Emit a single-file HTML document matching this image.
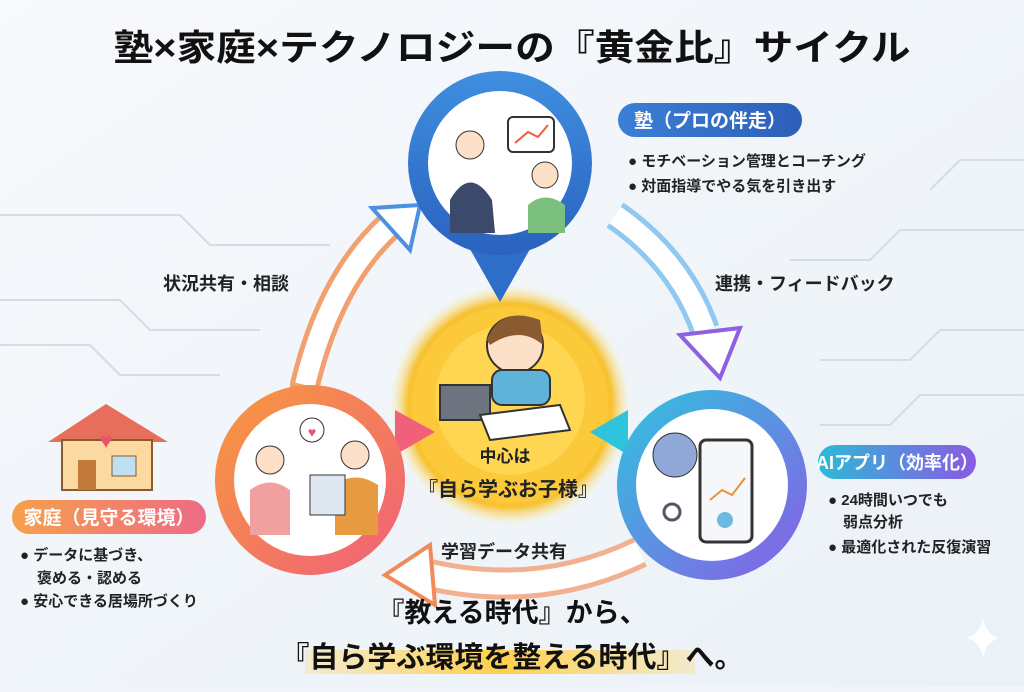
<!DOCTYPE html>
<html><head><meta charset="utf-8"><style>
html,body{margin:0;padding:0;}
body{width:1024px;height:687px;overflow:hidden;background:#f2f6fa;}
svg text{font-family:"Liberation Sans","Noto Sans CJK JP",sans-serif;font-weight:bold;}
</style></head><body>
<svg width="1024" height="687" viewBox="0 0 1024 687" xmlns="http://www.w3.org/2000/svg">
<defs>
<linearGradient id="bg" x1="0" y1="0" x2="1" y2="1"><stop offset="0" stop-color="#f7f9fc"/><stop offset="1" stop-color="#eaf1f7"/></linearGradient>
<radialGradient id="sun" cx="0.5" cy="0.5" r="0.5"><stop offset="0" stop-color="#fff6c0"/><stop offset="0.55" stop-color="#ffd84a"/><stop offset="0.85" stop-color="#f7c132"/><stop offset="1" stop-color="#fbe9a0" stop-opacity="0"/></radialGradient>
<linearGradient id="blue" x1="0" y1="0" x2="0" y2="1"><stop offset="0" stop-color="#3f8fe0"/><stop offset="1" stop-color="#2a62c0"/></linearGradient>
<linearGradient id="orange" x1="0" y1="0" x2="1" y2="1"><stop offset="0" stop-color="#f79a3e"/><stop offset="1" stop-color="#f0607a"/></linearGradient>
<linearGradient id="aiRing" x1="0" y1="0" x2="1" y2="1"><stop offset="0" stop-color="#2fc4de"/><stop offset="1" stop-color="#8a5ce6"/></linearGradient>
<linearGradient id="pillBlue" x1="0" x2="1"><stop offset="0" stop-color="#3b7fd6"/><stop offset="1" stop-color="#2d5fb8"/></linearGradient>
<linearGradient id="pillAI" x1="0" x2="1"><stop offset="0" stop-color="#2cbad8"/><stop offset="1" stop-color="#8b5ae2"/></linearGradient>
<linearGradient id="pillHome" x1="0" x2="1"><stop offset="0" stop-color="#f6a04c"/><stop offset="1" stop-color="#ee6a86"/></linearGradient>
<linearGradient id="hl" x1="0" x2="1"><stop offset="0" stop-color="#ffd76a" stop-opacity="0.3"/><stop offset="0.5" stop-color="#ffcf4a"/><stop offset="1" stop-color="#ffd76a" stop-opacity="0.3"/></linearGradient>
</defs>
<rect width="1024" height="687" fill="url(#bg)"/>
<g stroke="#d3dde8" stroke-width="2" fill="none">
<path d="M0 215 H180 L210 245 H330"/><path d="M0 300 H120 L150 330 H260"/><path d="M0 345 H90 L120 375 H220"/>
<path d="M1024 230 H900 L870 260 H790"/><path d="M1024 330 H940 L910 360 H820"/><path d="M1024 395 H920 L890 425 H820"/><path d="M1024 160 H960 L930 190"/>
</g>
<text x="512" y="60" font-size="36" text-anchor="middle" textLength="797" lengthAdjust="spacingAndGlyphs" fill="#111">塾×家庭×テクノロジーの『黄金比』サイクル</text>

<path d="M305 385 Q330 280 390 225" stroke="#f3a070" stroke-width="30" fill="none" stroke-linecap="round"/>
<path d="M305 385 Q330 280 390 225" stroke="#fff" stroke-width="20" fill="none"/>
<polygon points="372,208 420,205 410,250" fill="#fff" stroke="#4d8fe0" stroke-width="4"/>
<path d="M615 215 Q680 260 705 330" stroke="#8fc8f0" stroke-width="30" fill="none"/>
<path d="M615 215 Q680 260 705 330" stroke="#fff" stroke-width="20" fill="none"/>
<polygon points="680,335 740,328 720,378" fill="#fff" stroke="#9060e0" stroke-width="4"/>
<path d="M640 552 Q540 600 430 575" stroke="#f3b090" stroke-width="32" fill="none"/>
<path d="M640 552 Q540 600 430 575" stroke="#fff" stroke-width="22" fill="none"/>
<polygon points="430,545 385,575 435,605" fill="#fff" stroke="#f08a5a" stroke-width="4"/>

<circle cx="510" cy="405" r="120" fill="url(#sun)"/>
<circle cx="510" cy="405" r="98" fill="#fbc93a"/>
<circle cx="510" cy="400" r="75" fill="#ffdb5c" opacity="0.7"/>
<circle cx="515" cy="345" r="28" fill="#fde0c8" stroke="#333" stroke-width="2"/>
<path d="M487 340 Q500 305 540 320 L543 345 Q520 325 490 345Z" fill="#8a5a30"/>
<rect x="492" y="370" width="58" height="35" rx="10" fill="#5fb3d8" stroke="#333" stroke-width="2"/>
<rect x="440" y="385" width="50" height="35" fill="#6d7480" stroke="#333" stroke-width="2"/>
<polygon points="480,415 560,405 570,430 490,440" fill="#fff" stroke="#333" stroke-width="2"/>
<text x="505" y="462" font-size="17" text-anchor="middle" fill="#222">中心は</text>
<text x="508" y="496" font-size="20" text-anchor="middle" fill="#222">『自ら学ぶお子様』</text>

<polygon points="462,235 538,235 500,302" fill="#2f6ec8"/>
<circle cx="500" cy="163" r="92" fill="url(#blue)"/>
<circle cx="500" cy="163" r="72" fill="#fff"/>
<circle cx="470" cy="145" r="14" fill="#fde0c8" stroke="#333"/>
<path d="M450 200 Q470 165 492 200 L495 233 H450Z" fill="#3b4a6a"/>
<circle cx="545" cy="175" r="13" fill="#fde0c8" stroke="#333"/>
<path d="M528 205 Q545 190 565 205 V233 H528Z" fill="#7cc080"/>
<rect x="508" y="117" width="46" height="35" rx="5" fill="#fff" stroke="#333" stroke-width="2"/>
<path d="M515 143 L528 132 L538 137 L548 125" stroke="#e8603a" stroke-width="2" fill="none"/>

<polygon points="395,410 435,432 395,455" fill="#f0607a"/>
<circle cx="310" cy="480" r="95" fill="url(#orange)"/>
<circle cx="310" cy="480" r="76" fill="#fff"/>
<circle cx="270" cy="460" r="14" fill="#fde0c8" stroke="#333"/>
<path d="M250 490 Q270 475 290 490 V535 H250Z" fill="#f1a0a0"/>
<circle cx="355" cy="455" r="14" fill="#fde0c8" stroke="#333"/>
<path d="M335 485 Q355 470 378 485 V535 H335Z" fill="#e89a40"/>
<rect x="310" y="475" width="35" height="40" fill="#dfe8f0" stroke="#333"/>
<path d="M300 430 a12 12 0 1 1 24 0 a12 12 0 1 1 -24 0" fill="#fff" stroke="#333"/>
<text x="312" y="437" font-size="14" text-anchor="middle" fill="#e5566a">♥</text>

<polygon points="628,410 590,432 628,455" fill="#2fc4de"/>
<circle cx="712" cy="485" r="95" fill="url(#aiRing)"/>
<circle cx="712" cy="485" r="76" fill="#fff"/>
<circle cx="675" cy="455" r="22" fill="#8fa8d8" stroke="#333"/>
<rect x="700" y="440" width="52" height="102" rx="6" fill="#f5f7fa" stroke="#333" stroke-width="3"/>
<path d="M710 500 L722 490 L732 495 L745 478" stroke="#e8903a" stroke-width="2" fill="none"/>
<circle cx="725" cy="520" r="8" fill="#6db8e0"/>
<circle cx="672" cy="512" r="8" fill="none" stroke="#556" stroke-width="3"/>

<rect x="618" y="103" width="184" height="34" rx="17" fill="url(#pillBlue)"/>
<text x="710" y="127" font-size="19" text-anchor="middle" fill="#fff">塾（プロの伴走）</text>
<text x="628" y="166" font-size="15" fill="#222">● モチベーション管理とコーチング</text>
<text x="628" y="191" font-size="15" fill="#222">● 対面指導でやる気を引き出す</text>
<text x="715" y="290" font-size="18" fill="#222">連携・フィードバック</text>
<text x="163" y="290" font-size="18" fill="#222">状況共有・相談</text>

<rect x="818" y="445" width="158" height="34" rx="17" fill="url(#pillAI)"/>
<text x="897" y="469" font-size="18" text-anchor="middle" fill="#fff">AIアプリ（効率化）</text>
<text x="828" y="505" font-size="15" fill="#222">● 24時間いつでも</text>
<text x="843" y="527" font-size="15" fill="#222">弱点分析</text>
<text x="828" y="552" font-size="15" fill="#222">● 最適化された反復演習</text>

<polygon points="48,442 106,404 168,442" fill="#e66e5a"/>
<rect x="62" y="440" width="90" height="50" fill="#fbd9a0" stroke="#8a5a30" stroke-width="2"/>
<rect x="78" y="460" width="18" height="30" fill="#c27a3a"/>
<rect x="112" y="456" width="24" height="20" fill="#bfe0f0" stroke="#8a5a30"/>
<text x="106" y="448" font-size="22" text-anchor="middle" fill="#e5566a">♥</text>
<rect x="12" y="500" width="194" height="34" rx="17" fill="url(#pillHome)"/>
<text x="109" y="524" font-size="19" text-anchor="middle" fill="#fff">家庭（見守る環境）</text>
<text x="20" y="560" font-size="15" fill="#222">● データに基づき、</text>
<text x="37" y="583" font-size="15" fill="#222">褒める・認める</text>
<text x="20" y="606" font-size="15" fill="#222">● 安心できる居場所づくり</text>

<text x="441" y="558" font-size="18" fill="#222">学習データ共有</text>

<rect x="305" y="650" width="390" height="24" fill="url(#hl)"/>
<text x="512" y="622" font-size="27" text-anchor="middle" fill="#111">『教える時代』から、</text>
<text x="512" y="667" font-size="29" text-anchor="middle" fill="#111">『自ら学ぶ環境を整える時代』へ。</text>
<path d="M983 618 Q986 635 1000 638 Q986 641 983 658 Q980 641 966 638 Q980 635 983 618Z" fill="#fff"/>
</svg>
</body></html>
